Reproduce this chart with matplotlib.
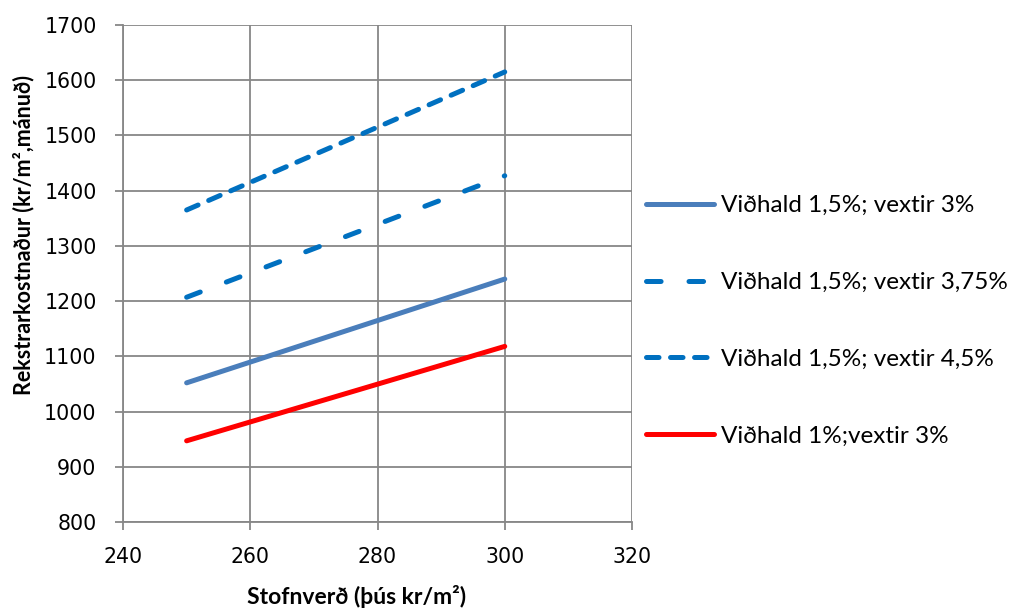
import matplotlib
matplotlib.use("Agg")
import matplotlib.pyplot as plt

# Stofnverð (þús kr/m²)
stofnverd = [250, 300]

# Rekstrarkostnaður (kr/m², mánuð) per scenario
vidhald15_vextir3 = [1052, 1240]
vidhald15_vextir375 = [1207, 1427]
vidhald15_vextir45 = [1365, 1615]
vidhald1_vextir3 = [947, 1118]

series_labels = [
    "Viðhald 1,5%; vextir 3%",
    "Viðhald 1,5%; vextir 3,75%",
    "Viðhald 1,5%; vextir 4,5%",
    "Viðhald 1%;vextir 3%",
]

x_ticks = [240, 260, 280, 300, 320]
y_ticks = [800, 900, 1000, 1100, 1200, 1300, 1400, 1500, 1600, 1700]

plt.rcParams["lines.scale_dashes"] = False

fig = plt.figure(figsize=(10.10, 6.13), dpi=100)
ax = fig.add_axes([123 / 1010, 1 - 522 / 613, (632 - 123) / 1010, (522 - 25) / 613])

lw = 3.6
grid_color = "#878787"

ax.plot(stofnverd, vidhald15_vextir3, color="#4A7EBB", lw=lw,
        solid_capstyle="round", label=series_labels[0])
ax.plot(stofnverd, vidhald15_vextir375, color="#0070C0", lw=lw,
        dashes=(10.5, 20.1), dash_capstyle="round", label=series_labels[1])
ax.plot(stofnverd, vidhald15_vextir45, color="#0070C0", lw=lw,
        dashes=(9.0, 8.3), dash_capstyle="round", label=series_labels[2])
ax.plot(stofnverd, vidhald1_vextir3, color="#FF0000", lw=lw,
        solid_capstyle="round", label=series_labels[3])

ax.set_xlim(240, 320)
ax.set_ylim(800, 1700)
ax.set_xticks(x_ticks)
ax.set_yticks(y_ticks)
ax.grid(True, color=grid_color, lw=1.3)
ax.set_axisbelow(True)
for side in ["top", "right"]:
    ax.spines[side].set_visible(False)
for side in ["left", "bottom"]:
    ax.spines[side].set_color(grid_color)
    ax.spines[side].set_linewidth(1.3)
ax.tick_params(axis="both", color=grid_color, width=1.3, length=6,
               labelsize=14.8, direction="out")
ax.tick_params(axis="y", pad=13)
ax.tick_params(axis="x", pad=12)
for lbl in ax.get_xticklabels() + ax.get_yticklabels():
    lbl.set_fontfamily("DejaVu Sans")

fig.text(357 / 1010, 1 - 596 / 613, "Stofnverð (þús kr/m²)", ha="center", va="center",
         fontsize=16.5, fontweight="bold", family="Lato")
fig.text(24 / 1010, 1 - 235 / 613, "Rekstrarkostnaður (kr/m²,mánuð)", ha="center", va="center",
         rotation=90, fontsize=15.5, fontweight="bold", family="Lato")

leg = fig.legend(loc="center left", bbox_to_anchor=(636 / 1010, 1 - 321 / 613),
                 frameon=False, prop={"family": "Lato", "size": 17.5},
                 handlelength=2.8, handletextpad=0.3, labelspacing=2.3,
                 borderaxespad=0)

fig.savefig("out.png", dpi=100)
